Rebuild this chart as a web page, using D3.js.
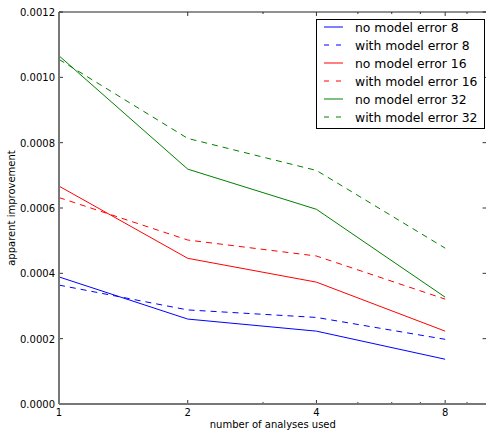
<!DOCTYPE html>
<html>
<head>
<meta charset="utf-8">
<script src="https://cdn.jsdelivr.net/npm/d3@7"></script>
<style>
  body { margin: 0; background: #fff; }
  text { font-family: "DejaVu Sans", sans-serif; fill: #000; }
</style>
</head>
<body>
<div id="chart"></div>
<script>
// values
const analyses = [1, 2, 4, 8];
const noError8 = [0.000389, 0.000260, 0.000223, 0.000137];
const withError8 = [0.000364, 0.000288, 0.000265, 0.000198];
const noError16 = [0.000667, 0.000446, 0.000373, 0.000223];
const withError16 = [0.000632, 0.000502, 0.000453, 0.000321];
const noError32 = [0.001066, 0.000719, 0.000596, 0.000327];
const withError32 = [0.001055, 0.000813, 0.000715, 0.000477];
const seriesNames = ['no model error 8', 'with model error 8', 'no model error 16',
    'with model error 16', 'no model error 32', 'with model error 32'];
const yTicks = [0, 0.0002, 0.0004, 0.0006, 0.0008, 0.0010, 0.0012];
const xMajor = [1, 2, 4, 8];
const xMinor = [3, 5, 6, 7, 9];

const series = [
    { name: seriesNames[0], values: noError8, color: '#0000ff', dashed: false },
    { name: seriesNames[1], values: withError8, color: '#0000ff', dashed: true },
    { name: seriesNames[2], values: noError16, color: '#ff0000', dashed: false },
    { name: seriesNames[3], values: withError16, color: '#ff0000', dashed: true },
    { name: seriesNames[4], values: noError32, color: '#008000', dashed: false },
    { name: seriesNames[5], values: withError32, color: '#008000', dashed: true }
];

var width = 486;
var height = 430;
var pLeft = 59, pRight = 486.6, pTop = 12, pBottom = 404;

var svg = d3.select('#chart')
    .append('svg')
    .attr('width', width)
    .attr('height', height);

var x = d3.scaleLog().base(2).domain([1, 10]).range([pLeft, pRight]);
var y = d3.scaleLinear().domain([0, 0.0012]).range([pBottom, pTop]);

// lines
var line = d3.line()
    .x((d, i) => x(analyses[i]))
    .y(d => y(d));

series.forEach(function (s) {
    svg.append('path')
        .datum(s.values)
        .attr('d', line)
        .attr('fill', 'none')
        .attr('stroke', s.color)
        .attr('stroke-width', 1)
        .attr('stroke-dasharray', s.dashed ? '6,5' : null);
});

// ticks (inward, on all sides)
var g = svg.append('g').attr('stroke', '#000').attr('stroke-width', 0.8);
xMajor.forEach(function (v) {
    g.append('line').attr('x1', x(v)).attr('x2', x(v)).attr('y1', pBottom).attr('y2', pBottom - 4);
    g.append('line').attr('x1', x(v)).attr('x2', x(v)).attr('y1', pTop).attr('y2', pTop + 4);
});
xMinor.forEach(function (v) {
    g.append('line').attr('x1', x(v)).attr('x2', x(v)).attr('y1', pBottom).attr('y2', pBottom - 2);
    g.append('line').attr('x1', x(v)).attr('x2', x(v)).attr('y1', pTop).attr('y2', pTop + 2);
});
yTicks.forEach(function (v) {
    g.append('line').attr('x1', pLeft).attr('x2', pLeft + 4).attr('y1', y(v)).attr('y2', y(v));
    g.append('line').attr('x1', pRight).attr('x2', pRight - 4).attr('y1', y(v)).attr('y2', y(v));
});

// frame
svg.append('line').attr('x1', pLeft).attr('x2', pLeft).attr('y1', pTop).attr('y2', pBottom)
    .attr('stroke', '#777').attr('stroke-width', 2);
svg.append('line').attr('x1', pLeft).attr('x2', pRight).attr('y1', pBottom).attr('y2', pBottom)
    .attr('stroke', '#777').attr('stroke-width', 2);
svg.append('line').attr('x1', pLeft).attr('x2', pRight).attr('y1', pTop).attr('y2', pTop)
    .attr('stroke', '#222').attr('stroke-width', 1);
svg.append('line').attr('x1', pRight).attr('x2', pRight).attr('y1', pTop).attr('y2', pBottom)
    .attr('stroke', '#222').attr('stroke-width', 1);

// tick labels
xMajor.forEach(function (v) {
    svg.append('text').attr('x', x(v)).attr('y', 416)
        .attr('text-anchor', 'middle').style('font-size', '10px').text(v);
});
yTicks.forEach(function (v) {
    svg.append('text').attr('x', pLeft - 4).attr('y', y(v) + 4)
        .attr('text-anchor', 'end').style('font-size', '10px').text(v.toFixed(4));
});

// axis labels
svg.append('text').attr('x', (pLeft + pRight) / 2).attr('y', 428)
    .attr('text-anchor', 'middle').style('font-size', '10px').text('number of analyses used');
svg.append('text')
    .attr('transform', 'translate(15,' + (pTop + pBottom) / 2 + ') rotate(-90)')
    .attr('text-anchor', 'middle').style('font-size', '10px').text('apparent improvement');

// legend
var lg = svg.append('g');
lg.append('rect').attr('x', 316.5).attr('y', 19.5).attr('width', 168).attr('height', 109)
    .attr('fill', '#fff').attr('stroke', '#000').attr('stroke-width', 1);
series.forEach(function (s, i) {
    var cy = 27 + i * 18;
    lg.append('line').attr('x1', 324).attr('x2', 343).attr('y1', cy).attr('y2', cy)
        .attr('stroke', s.color).attr('stroke-width', 1)
        .attr('stroke-dasharray', s.dashed ? '5,7' : null);
    lg.append('text').attr('x', 355).attr('y', cy + 4.5)
        .style('font-size', '12.4px').text(s.name);
});
</script>
</body>
</html>
